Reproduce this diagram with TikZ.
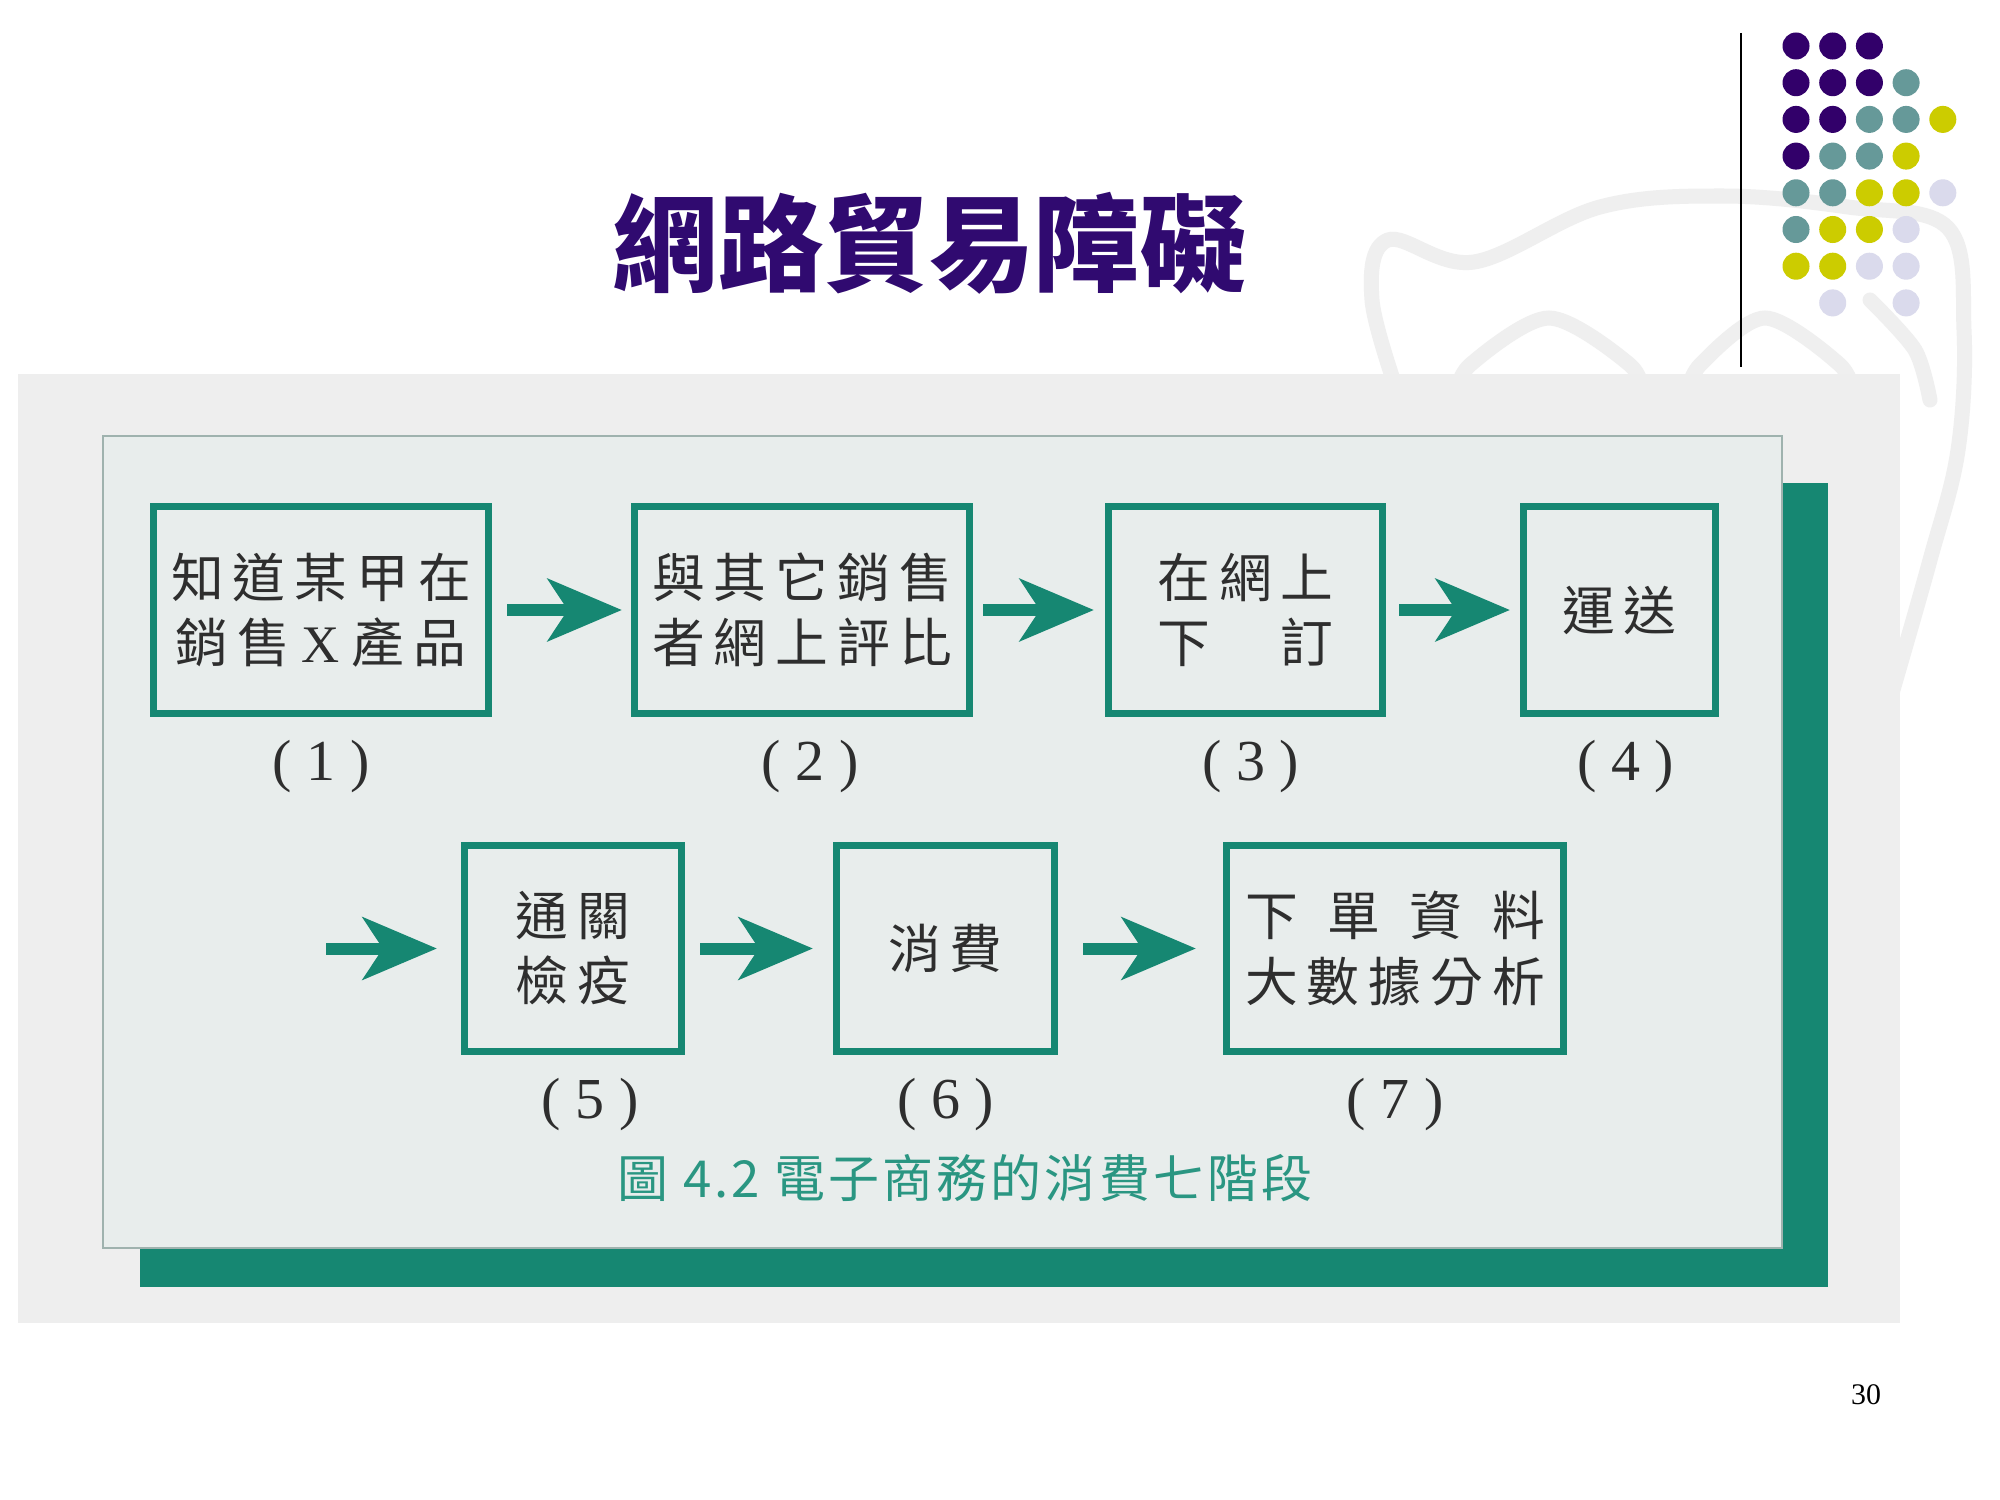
\documentclass[tikz,border=0pt]{standalone}
\usepackage{fontspec}
\usepackage{calc}
\setmainfont{Liberation Serif}
\newfontfamily\cjk{Noto Sans CJK TC}
\newfontfamily\boxfont[LetterSpace=17]{Noto Sans CJK TC}
\newfontfamily\capfont[LetterSpace=6]{Noto Sans CJK TC}
\usetikzlibrary{positioning}
\usetikzlibrary{arrows.meta}
\definecolor{stagegreen}{HTML}{168772}
\definecolor{capgreen}{HTML}{2A9682}
\definecolor{panelgray}{HTML}{EEEEEE}
\definecolor{panelfill}{HTML}{E8EDEC}
\definecolor{panelline}{HTML}{9FB2AE}
\definecolor{textgray}{HTML}{2E2E2E}
\definecolor{titleblue}{HTML}{300A70}
\definecolor{markgray}{HTML}{EFEFEF}
\definecolor{dotpurple}{HTML}{32006A}
\definecolor{dotteal}{HTML}{669999}
\definecolor{dotyellow}{HTML}{CCCC00}
\definecolor{dotlilac}{HTML}{DADAEC}
\tikzset{stage/.style={draw=stagegreen, line width=0.07cm, fill=panelfill,
   minimum height=2.06cm, inner sep=0, align=center, text=textgray,
   font=\boxfont\fontsize{15}{18.5}\selectfont},
 flow/.style={draw=stagegreen, line width=0.12cm,
   -{Stealth[length=0.74cm, width=0.62cm, inset=0.2cm]}},
 tag/.style={inner sep=0, text=textgray, font=\fontsize{16.5}{18}\selectfont},
 logoline/.style={draw=markgray, line width=0.15cm, line cap=round},
 }

\begin{document}
\begin{tikzpicture}[x=0.01cm, y=-0.01cm]
        \fill[white] (0,0) rectangle (2000,1500);
        \useasboundingbox (0,0) rectangle (2000,1500);
        % faint logo behind the slide
        \draw[logoline] plot[smooth, tension=0.6] coordinates {(1400,400) (1372,300) (1388,240) (1474,262) (1600,207) (1723,196) (1848,207) (1948,228) (1964,330) (1958,450) (1930,560) (1890,700)};
        \draw[logoline] plot[smooth] coordinates {(1455,400) (1470,365) (1549,318) (1630,365) (1645,400)};
        \draw[logoline] plot[smooth] coordinates {(1685,400) (1700,365) (1765,318) (1840,365) (1855,400)};
        \draw[logoline] plot[smooth] coordinates {(1870,300) (1915,350) (1930,400)};
        % figure panels
        \fill[panelgray] (18,374) rectangle (1900,1323);
        \fill[stagegreen] (140,483) rectangle (1828,1287);
        \filldraw[fill=panelfill, draw=panelline, line width=0.02cm] (103,436) rectangle (1782,1248);
        % stages
        \node[stage, minimum width=3.35cm] (b1) at (321,610) {知道某甲在\\銷售\makebox[1.17em]{\rmfamily X}產品};
        \node[stage, minimum width=3.35cm] (b2) at (802,610) {與其它銷售\\者網上評比};
        \node[stage, minimum width=2.74cm] (b3) at (1245.5,610) {在網上\\下　訂};
        \node[stage, minimum width=1.92cm] (b4) at (1619.5,610) {運送};
        \node[stage, minimum width=2.17cm] (b5) at (573,948.5) {通關\\檢疫};
        \node[stage, minimum width=2.18cm] (b6) at (945.5,948.5) {消費};
        \node[stage, minimum width=3.37cm] (b7) at (1395,948.5) {\makebox[\widthof{大數據分析}][s]{下\hfill 單\hfill 資\hfill 料}\\大數據分析};
        \coordinate (entry) at (326,948.5);
        \draw[flow, shorten <=0.15cm, shorten >=0.09cm] (b1) -- (b2);
        \draw[flow, shorten <=0.10cm, shorten >=0.11cm] (b2) -- (b3);
        \draw[flow, shorten <=0.13cm, shorten >=0.10cm] (b3) -- (b4);
        \draw[flow, shorten >=0.24cm] (entry) -- (b5);
        \draw[flow, shorten <=0.15cm, shorten >=0.20cm] (b5) -- (b6);
        \draw[flow, shorten <=0.25cm, shorten >=0.27cm] (b6) -- (b7);
        % step numbers
        \node[tag, below=0.23cm of b1] (n1) {( 1 )};
        \node[tag, below=0.23cm of b2, xshift=0.08cm] (n2) {( 2 )};
        \node[tag, below=0.23cm of b3, xshift=0.05cm] (n3) {( 3 )};
        \node[tag, below=0.23cm of b4, xshift=0.06cm] (n4) {( 4 )};
        \node[tag, below=0.22cm of b5, xshift=0.17cm] (n5) {( 5 )};
        \node[tag, below=0.22cm of b6] (n6) {( 6 )};
        \node[tag, below=0.22cm of b7] (n7) {( 7 )};
        \node[text=capgreen, font=\capfont\fontsize{14.5}{16}\selectfont] (caption) at (965,1178) {圖 4.2 電子商務的消費七階段};
        % slide title and decoration
        \node[text=titleblue, font=\cjk\bfseries\fontsize{30}{36}\selectfont] (title) at (929,243) {網路貿易障礙};
        \draw[line width=0.02cm] (1741,33) -- (1741,367);
        \foreach \c/\r/\k in {1/1/dotpurple, 2/1/dotpurple, 3/1/dotpurple,
            1/2/dotpurple, 2/2/dotpurple, 3/2/dotpurple, 4/2/dotteal,
            1/3/dotpurple, 2/3/dotpurple, 3/3/dotteal, 4/3/dotteal, 5/3/dotyellow,
            1/4/dotpurple, 2/4/dotteal, 3/4/dotteal, 4/4/dotyellow,
            1/5/dotteal, 2/5/dotteal, 3/5/dotyellow, 4/5/dotyellow, 5/5/dotlilac,
            1/6/dotteal, 2/6/dotyellow, 3/6/dotyellow, 4/6/dotlilac,
            1/7/dotyellow, 2/7/dotyellow, 3/7/dotlilac, 4/7/dotlilac,
            2/8/dotlilac, 4/8/dotlilac}
            \fill[\k] ({1759.3+36.7*\c}, {9.3+36.7*\r}) circle (0.135cm);
        \node[font=\fontsize{8.5}{10}\selectfont] (page) at (1866,1395) {30};
    \end{tikzpicture}
\end{document}
